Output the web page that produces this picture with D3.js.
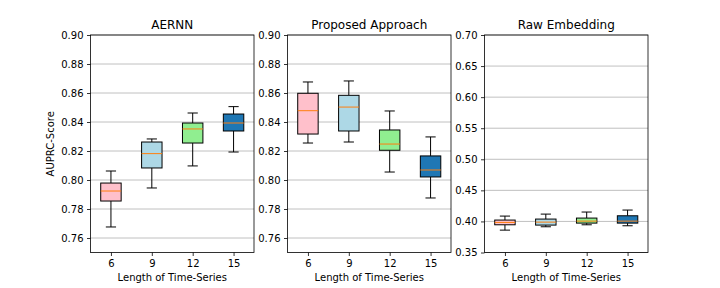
<!DOCTYPE html>
<html><head><meta charset="utf-8">
<script src="https://cdn.jsdelivr.net/npm/d3@7"></script>
<style>body{margin:0;background:#fff}svg{display:block}text{font-family:"DejaVu Sans",sans-serif;fill:#000}</style>
</head><body><svg id="c" width="720" height="288"></svg>
<script>
const categories = ["6", "9", "12", "15"];
const boxColors = ["pink", "lightblue", "lightgreen", "#1f77b4"];
const panelTitles = ["AERNN", "Proposed Approach", "Raw Embedding"];
// each stat: [whiskerLow, q1, median, q3, whiskerHigh]
const aernnStats = [
  [0.7676, 0.7855, 0.7924, 0.7979, 0.8062],
  [0.7945, 0.8083, 0.8182, 0.8262, 0.8283],
  [0.8097, 0.8255, 0.8352, 0.8393, 0.8462],
  [0.8193, 0.8338, 0.8393, 0.8455, 0.8506]
];
const proposedStats = [
  [0.8255, 0.8317, 0.8478, 0.8598, 0.8676],
  [0.8262, 0.8338, 0.8503, 0.8584, 0.8683],
  [0.8055, 0.8205, 0.8248, 0.8345, 0.8476],
  [0.7876, 0.8021, 0.8069, 0.8166, 0.8297]
];
const rawStats = [
  [0.3860, 0.3946, 0.3984, 0.4022, 0.4086],
  [0.3914, 0.3941, 0.3989, 0.4038, 0.4118],
  [0.3946, 0.3973, 0.4005, 0.4054, 0.4151],
  [0.3930, 0.3973, 0.4005, 0.4091, 0.4183]
];
const ticksA = [0.76, 0.78, 0.80, 0.82, 0.84, 0.86, 0.88, 0.90];
const ticksR = [0.35, 0.40, 0.45, 0.50, 0.55, 0.60, 0.65, 0.70];
const domainA = [0.75, 0.90];
const domainR = [0.35, 0.70];

const panels = [
  {title: panelTitles[0], stats: aernnStats, ticks: ticksA, domain: domainA, left: 90.5, ylabel: "AUPRC-Score"},
  {title: panelTitles[1], stats: proposedStats, ticks: ticksA, domain: domainA, left: 287.5},
  {title: panelTitles[2], stats: rawStats, ticks: ticksR, domain: domainR, left: 484.5}
];
const W = 163.5, plotTop = 35, plotBottom = 252.5;
const svg = d3.select("#c");

panels.forEach(p => {
  const g = svg.append("g");
  const x = d3.scaleLinear().domain([0.5, 4.5]).range([p.left, p.left + W]);
  const y = d3.scaleLinear().domain(p.domain).range([plotBottom, plotTop]);
  g.selectAll(".grid").data(p.ticks).enter().append("line")
    .attr("x1", p.left).attr("x2", p.left + W)
    .attr("y1", d => y(d)).attr("y2", d => y(d))
    .attr("stroke", "#b0b0b0").attr("stroke-width", 0.8);
  const bw = (x(1.25) - x(1));
  const cw = (x(1.125) - x(1));
  p.stats.forEach((s, i) => {
    const cx = x(i + 1);
    const bg = g.append("g");
    bg.append("line").attr("x1", cx).attr("x2", cx).attr("y1", y(s[0])).attr("y2", y(s[1])).attr("stroke", "#000");
    bg.append("line").attr("x1", cx).attr("x2", cx).attr("y1", y(s[3])).attr("y2", y(s[4])).attr("stroke", "#000");
    bg.append("line").attr("x1", cx - cw).attr("x2", cx + cw).attr("y1", y(s[0])).attr("y2", y(s[0])).attr("stroke", "#000");
    bg.append("line").attr("x1", cx - cw).attr("x2", cx + cw).attr("y1", y(s[4])).attr("y2", y(s[4])).attr("stroke", "#000");
    bg.append("rect").attr("x", cx - bw).attr("width", 2 * bw)
      .attr("y", y(s[3])).attr("height", y(s[1]) - y(s[3]))
      .attr("fill", boxColors[i]).attr("stroke", "#000").attr("stroke-width", 1);
    bg.append("line").attr("x1", cx - bw).attr("x2", cx + bw).attr("y1", y(s[2])).attr("y2", y(s[2]))
      .attr("stroke", "#ff7f0e").attr("stroke-width", 1);
  });
  g.append("rect").attr("x", p.left).attr("y", plotTop).attr("width", W).attr("height", plotBottom - plotTop)
    .attr("fill", "none").attr("stroke", "#000").attr("stroke-width", 0.8);
  const yAxis = d3.axisLeft(y).tickValues(p.ticks).tickFormat(d3.format(".2f")).tickSize(3.5).tickPadding(3.5);
  const ya = g.append("g").attr("transform", `translate(${p.left},0)`).call(yAxis);
  const xAxis = d3.axisBottom(x).tickValues([1, 2, 3, 4]).tickFormat((d, i) => categories[i]).tickSize(3.5).tickPadding(3.5);
  const xa = g.append("g").attr("transform", `translate(0,${plotBottom})`).call(xAxis);
  [ya, xa].forEach(a => {
    a.select(".domain").remove();
    a.selectAll("line").attr("stroke", "#000").attr("stroke-width", 0.8);
    a.selectAll("text").style("font-size", "10px").style("font-family", "DejaVu Sans").attr("fill", "#000");
  });
  g.append("text").attr("x", p.left + W / 2).attr("y", 29).attr("text-anchor", "middle")
    .style("font-size", "12px").text(p.title);
  g.append("text").attr("x", p.left + W / 2).attr("y", 281).attr("text-anchor", "middle")
    .style("font-size", "10px").text("Length of Time-Series");
  if (p.ylabel) {
    g.append("text").attr("transform", `translate(54,${(plotTop + plotBottom) / 2}) rotate(-90)`)
      .attr("text-anchor", "middle").style("font-size", "10px").text(p.ylabel);
  }
});
</script></body></html>
